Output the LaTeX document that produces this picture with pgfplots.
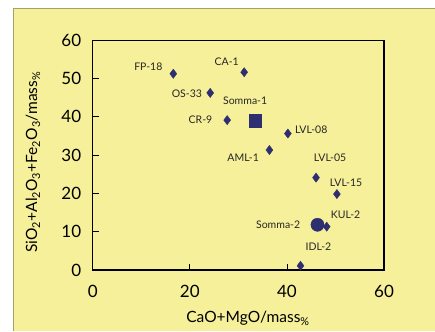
\documentclass[border=0pt]{standalone}
\usepackage{fontspec}
\setmainfont{Lato}
\usepackage{pgfplots}
\pgfplotsset{compat=1.18}
\definecolor{bgyel}{RGB}{246,240,154}
\definecolor{bord}{RGB}{165,160,110}
\definecolor{navy}{RGB}{46,47,112}
\begin{document}
\begin{tikzpicture}[x=1pt,y=1pt]
\useasboundingbox (0,0) rectangle (435,331);
\fill[white] (0,0) rectangle (435,331);
\fill[bgyel] (13,0) rectangle (435,322);
\draw[bord,line width=1pt] (13,0) -- (13,322) -- (435,322);
\begin{axis}[
  at={(92.7pt,61pt)}, anchor=south west,
  width=291.3pt, height=230pt, scale only axis,
  xmin=0, xmax=60, ymin=0, ymax=60,
  xtick={0,20,40,60}, ytick={0,10,20,30,40,50,60},
  tick pos=left, tick align=inside,
  major tick length=6pt,
  axis line style={line width=0.9pt},
  tick style={line width=0.7pt, black},
  /pgf/number format/assume math mode=true,
  ticklabel style={font=\fontsize{17}{19}\selectfont},
  xticklabel style={yshift=-12pt},
  yticklabel style={xshift=-8pt},
  clip=false,
]
\addplot[only marks, mark=diamond*, mark size=4.6pt, navy, mark options={fill=navy, draw=navy}] coordinates {
  (16.6,51.2) (31.2,51.6) (24.2,46.2) (27.7,39.1) (36.4,31.3)
  (40.2,35.6) (46.0,24.1) (50.3,19.8) (48.2,11.3) (42.8,1.1)
};
\addplot[only marks, mark=square*, mark size=6.3pt, navy, mark options={fill=navy, draw=navy}] coordinates {
  (33.5,38.9)
};
\addplot[only marks, mark=*, mark size=6.6pt, navy, mark options={fill=navy, draw=navy}] coordinates {
  (46.3,11.8)
};
\draw[line width=1.8pt] (rel axis cs:0,0) -- (rel axis cs:1,0) -- (rel axis cs:1,1);
\begin{scope}[font=\fontsize{10.5}{12}\selectfont, text=black!85]
\node at (axis cs:11.45,53.0) {FP-18};
\node at (axis cs:27.6,54.3) {CA-1};
\node at (axis cs:19.4,46.1) {OS-33};
\node at (axis cs:31.4,44.1) {Somma-1};
\node at (axis cs:22.2,39.1) {CR-9};
\node at (axis cs:31.0,29.2) {AML-1};
\node at (axis cs:45.0,36.6) {LVL-08};
\node at (axis cs:48.9,29.2) {LVL-05};
\node at (axis cs:52.2,22.8) {LVL-15};
\node at (axis cs:52.1,14.5) {KUL-2};
\node at (axis cs:38.2,11.9) {Somma-2};
\node at (axis cs:46.5,6.1) {IDL-2};
\end{scope}
\end{axis}
\node[font=\fontsize{15.5}{18}\selectfont] at (248,12.7) {CaO+MgO/mass\textsubscript{\%}};
\node[font=\fontsize{15.5}{18}\selectfont, rotate=90] at (33,169) {SiO\textsubscript{2}+Al\textsubscript{2}O\textsubscript{3}+Fe\textsubscript{2}O\textsubscript{3}/mass\textsubscript{\%}};
\end{tikzpicture}
\end{document}
